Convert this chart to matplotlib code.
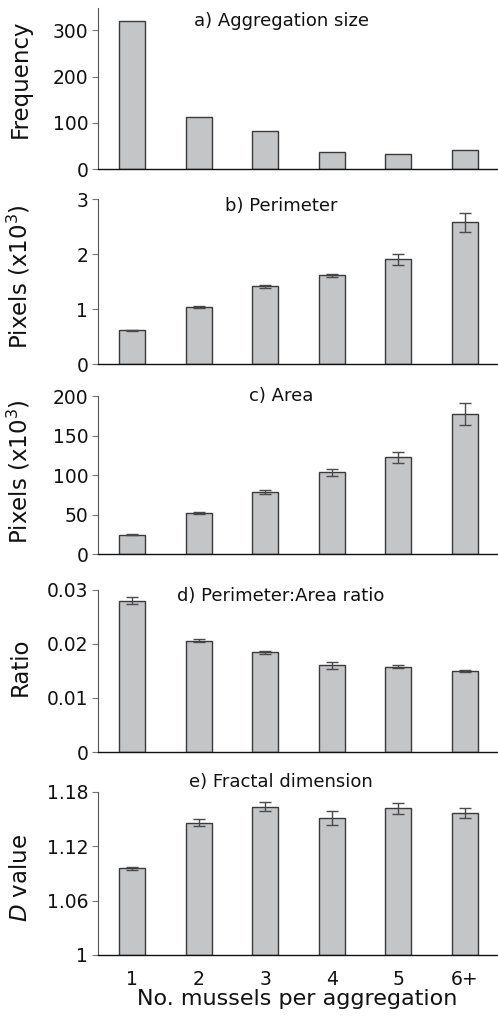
import matplotlib
matplotlib.use("Agg")
import matplotlib.pyplot as plt
import numpy as np

plt.rcParams['font.family'] = ['DejaVu Sans']
plt.rcParams['mathtext.fontset'] = 'dejavusans'

categories = ['1', '2', '3', '4', '5', '6+']

freq = [321, 113, 82, 38, 32, 42]

perim = [0.62, 1.04, 1.42, 1.62, 1.91, 2.58]
perim_err = [0.01, 0.02, 0.03, 0.025, 0.10, 0.18]

area = [25, 52, 79, 103.5, 122.5, 177]
area_err = [1.0, 1.5, 2.5, 4.0, 7.0, 14.0]

ratio = [0.0280, 0.0206, 0.0184, 0.0160, 0.0158, 0.0149]
ratio_err = [0.0007, 0.0003, 0.0002, 0.0007, 0.0002, 0.0002]

dval = [1.0955, 1.146, 1.1633, 1.1512, 1.1615, 1.157]
dval_err = [0.002, 0.0035, 0.0048, 0.0075, 0.0059, 0.0055]

W, H = 498, 1016
fig = plt.figure(figsize=(W / 100, H / 100), dpi=100)

left, right = 98, 497
panels = [
    dict(top=8, bottom=169.3, vals=freq, err=None, ylim=(0, 348),
         yticks=[0, 100, 200, 300], yticklabels=['0', '100', '200', '300'],
         ylabel='Frequency', title='a) Aggregation size', ty=20.7, ly=0.56),
    dict(top=199.3, bottom=364.3, vals=perim, err=perim_err, ylim=(0, 3),
         yticks=[0, 1, 2, 3], yticklabels=['0', '1', '2', '3'],
         ylabel='Pixels (x10$^3$)', title='b) Perimeter', ty=206, ly=0.53),
    dict(top=396, bottom=554.3, vals=area, err=area_err, ylim=(0, 200),
         yticks=[0, 50, 100, 150, 200], yticklabels=['0', '50', '100', '150', '200'],
         ylabel='Pixels (x10$^3$)', title='c) Area', ty=396, ly=0.52),
    dict(top=589.7, bottom=752, vals=ratio, err=ratio_err, ylim=(0, 0.03),
         yticks=[0, 0.01, 0.02, 0.03], yticklabels=['0', '0.01', '0.02', '0.03'],
         ylabel='Ratio', title='d) Perimeter:Area ratio', ty=596, ly=0.525),
    dict(top=791.7, bottom=955, vals=dval, err=dval_err, ylim=(1, 1.18),
         yticks=[1, 1.06, 1.12, 1.18], yticklabels=['1', '1.06', '1.12', '1.18'],
         ylabel='$\\mathit{D}$ value', title='e) Fractal dimension', ty=781.7, ly=0.47),
]

x = np.arange(len(categories))
bar_color = '#c4c5c7'
edge_color = '#3a3a3a'

for i, p in enumerate(panels):
    ax = fig.add_axes([left / W, 1 - p['bottom'] / H, (right - left) / W,
                       (p['bottom'] - p['top']) / H])
    base = p['ylim'][0]
    heights = [v - base for v in p['vals']]
    ax.bar(x, heights, bottom=base, width=0.39, color=bar_color,
           edgecolor=edge_color, linewidth=1.0, zorder=2)
    if p['err'] is not None:
        ax.errorbar(x, p['vals'], yerr=p['err'], fmt='none', ecolor='#4a4a4a',
                    elinewidth=1.0, capsize=4.5, capthick=1.0, zorder=3)
    ax.set_xlim(-0.51, 5.48)
    ax.set_ylim(*p['ylim'])
    ax.set_yticks(p['yticks'])
    ax.set_yticklabels(p['yticklabels'])
    for s in ['top', 'right']:
        ax.spines[s].set_visible(False)
    ax.spines['left'].set_color('#555555')
    ax.spines['left'].set_linewidth(0.8)
    ax.spines['bottom'].set_color('#111111')
    ax.spines['bottom'].set_linewidth(1.0)
    ax.tick_params(axis='y', length=4, width=0.8, color='#777777',
                   labelsize=13.5, pad=3, labelcolor='#111111')
    ax.tick_params(axis='x', length=0, labelsize=13.5, pad=11, labelcolor='#111111')
    ax.set_xticks(x)
    if i < len(panels) - 1:
        ax.set_xticklabels([])
    else:
        ax.set_xticklabels(categories)
        ax.set_xlabel('No. mussels per aggregation', fontsize=16, labelpad=0,
                      color='#111111')
    ax.set_ylabel(p['ylabel'], fontsize=16.5, color='#111111')
    ax.yaxis.set_label_coords(-0.165, p['ly'])
    ty_frac = (p['bottom'] - p['ty']) / (p['bottom'] - p['top'])
    ax.text(0.459, ty_frac, p['title'], transform=ax.transAxes, ha='center',
            va='center', fontsize=13, color='#111111', clip_on=False)

fig.savefig('out.png', dpi=100)
